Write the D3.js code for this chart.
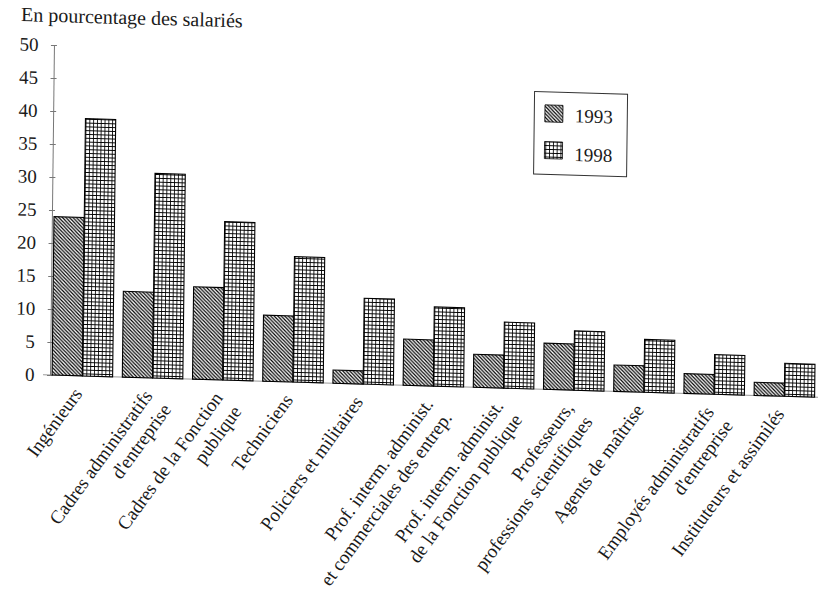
<!DOCTYPE html>
<html>
<head>
<meta charset="utf-8">
<script src="https://cdn.jsdelivr.net/npm/d3@7"></script>
<style>
  html, body { margin: 0; padding: 0; background: #fff; }
  svg { display: block; }
  svg text { font-family: "Liberation Serif", "Tinos", "Times New Roman", Times, "DejaVu Serif", "Noto Serif", serif !important; fill: #1a1a1a; }
</style>
</head>
<body>
<svg id="chart" width="825" height="603"></svg>
<script>
// Share of employees by occupational group, 1993 vs 1998 (percent)
const categories = [
  "Ingénieurs",
  "Cadres administratifs\nd'entreprise",
  "Cadres de la Fonction\npublique",
  "Techniciens",
  "Policiers et militaires",
  "Prof. interm. administ.\net commerciales des entrep.",
  "Prof. interm. administ.\nde la Fonction publique",
  "Professeurs,\nprofessions scientifiques",
  "Agents de maîtrise",
  "Employés administratifs\nd'entreprise",
  "Instituteurs et assimilés"
];
const years = ["1993", "1998"];
const values1993 = [24, 13, 14, 10, 2, 7, 5, 7, 4, 3, 2];
const values1998 = [39, 31, 24, 19, 13, 12, 10, 9, 8, 6, 5];
const yTicks = [0, 5, 10, 15, 20, 25, 30, 35, 40, 45, 50];
const yTitle = "En pourcentage des salariés";

const serif = "'Liberation Serif', 'Tinos', 'Times New Roman', Times, 'DejaVu Serif', serif";
const svg = d3.select("#chart").attr("font-family", serif);

// Fill patterns: diagonal hatching for 1993, square grid for 1998
const defs = svg.append("defs");
const hs = 3.6;
const hatch = defs.append("pattern")
  .attr("id", "pat1993").attr("patternUnits", "userSpaceOnUse")
  .attr("width", hs).attr("height", hs);
hatch.append("rect").attr("width", hs).attr("height", hs).attr("fill", "#fff");
hatch.append("path")
  .attr("d", `M0,0L${hs},${hs}M${-1},${hs - 1}L1,${hs + 1}M${hs - 1},-1L${hs + 1},1`)
  .attr("stroke", "#000").attr("stroke-width", 1.2);

const gs = 3.8;
const grid = defs.append("pattern")
  .attr("id", "pat1998").attr("patternUnits", "userSpaceOnUse")
  .attr("width", gs).attr("height", gs);
grid.append("rect").attr("width", gs).attr("height", gs).attr("fill", "#fff");
grid.append("path")
  .attr("d", `M0,0L${gs},0M0,0L0,${gs}`)
  .attr("stroke", "#000").attr("stroke-width", 1.7);

const fills = { "1993": "url(#pat1993)", "1998": "url(#pat1998)" };
const seriesByYear = { "1993": values1993, "1998": values1998 };

// Whole figure is slightly skewed, as on the printed page
const g = svg.append("g")
  .attr("transform", "matrix(1,0.029,-0.012,1,4.5,-1.45)");

const y = d3.scaleLinear().domain([0, 50]).range([375, 45]);
const x = d3.scaleBand().domain(categories)
  .range([50, 816.7]).paddingInner(0.138).paddingOuter(0.03);
const xs = d3.scaleBand().domain(years).range([0, x.bandwidth()]);

// Title
g.append("text")
  .attr("x", 16.8).attr("y", 22)
  .attr("font-size", 20)
  .text(yTitle);

// Baseline
g.append("line")
  .attr("x1", 43).attr("x2", 818)
  .attr("y1", y(0)).attr("y2", y(0))
  .attr("stroke", "#9a9a9a").attr("stroke-width", 1);

// Y axis
const yAxis = g.append("g")
  .attr("transform", "translate(50,0)")
  .call(d3.axisLeft(y).tickValues(yTicks).tickSizeInner(3).tickSizeOuter(0).tickPadding(12.5));
yAxis.attr("font-family", serif);
yAxis.select(".domain").attr("stroke", "#777");
yAxis.selectAll(".tick line").attr("x1", -3).attr("x2", 3).attr("stroke", "#777");
yAxis.selectAll(".tick text")
  .attr("font-size", 19)
  .attr("fill", "#1a1a1a");

// Bars
const groups = g.append("g").selectAll("g")
  .data(categories)
  .join("g")
  .attr("transform", d => `translate(${x(d)},0)`);

groups.selectAll("rect")
  .data((c, i) => years.map(yr => ({ year: yr, value: seriesByYear[yr][i] })))
  .join("rect")
  .attr("x", d => xs(d.year))
  .attr("width", xs.bandwidth())
  .attr("y", d => y(d.value))
  .attr("height", d => y(0) - y(d.value))
  .attr("fill", d => fills[d.year])
  .attr("stroke", "#000")
  .attr("stroke-width", 1.1);

// Category labels, rotated, first line ending under the bar pair
const labels = g.append("g").selectAll("text")
  .data(categories)
  .join("text")
  .attr("transform", d => `translate(${x(d) + x.bandwidth() / 2 + 1},393) rotate(-55)`)
  .attr("text-anchor", "end")
  .attr("font-size", 19);
labels.selectAll("tspan")
  .data(d => d.split("\n"))
  .join("tspan")
  .attr("x", 0)
  .attr("y", (d, i) => i * 23)
  .text(d => d);

// Legend
const legend = g.append("g").attr("transform", "translate(531,77.6)");
legend.append("rect")
  .attr("width", 93).attr("height", 82.4)
  .attr("fill", "#fff").attr("stroke", "#333").attr("stroke-width", 1);
const legendRows = [
  { year: "1993", sy: 13, ty: 29.6 },
  { year: "1998", sy: 49.7, ty: 68.3 }
];
legendRows.forEach(r => {
  legend.append("rect")
    .attr("x", 10.6).attr("y", r.sy)
    .attr("width", 18).attr("height", 17)
    .attr("fill", fills[r.year])
    .attr("stroke", "#000").attr("stroke-width", 0.8);
  legend.append("text")
    .attr("x", 40.6).attr("y", r.ty)
    .attr("font-size", 19)
    .text(r.year);
});
</script>
</body>
</html>
